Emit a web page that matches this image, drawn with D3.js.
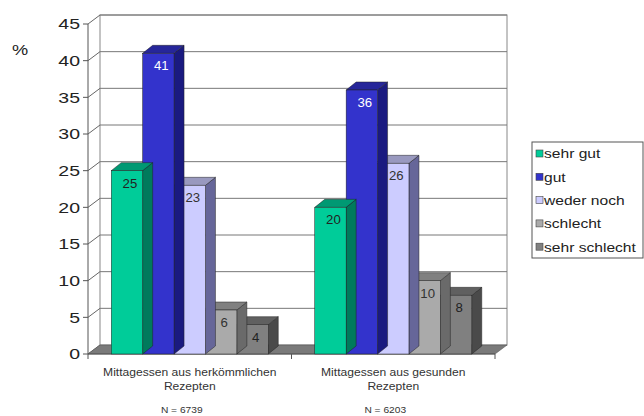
<!DOCTYPE html>
<html>
<head>
<meta charset="utf-8">
<script src="https://cdn.jsdelivr.net/npm/d3@7"></script>
<style>
  body { margin: 0; background: #fff; }
  svg { display: block; font-family: "Liberation Sans", Arial, sans-serif; }
</style>
</head>
<body>
<div id="chart"></div>
<script>
const width = 644;
const height = 416;

// data
const categories = ["Mittagessen aus herkömmlichen|Rezepten", "Mittagessen aus gesunden|Rezepten"];
const sampleSizes = ["N = 6739", "N = 6203"];
const seriesNames = ["sehr gut", "gut", "weder noch", "schlecht", "sehr schlecht"];
const values = [
    [25, 41, 23, 6, 4],
    [20, 36, 26, 10, 8]
];
const yTicks = [0, 5, 10, 15, 20, 25, 30, 35, 40, 45];

// colours: front, top, side
const frontColor = ["#00cc99", "#3333cc", "#ccccff", "#aaaaaa", "#808080"];
const topColor = ["#009973", "#26269a", "#9999bf", "#808080", "#606060"];
const sideColor = ["#007a5c", "#1a1a80", "#666699", "#6a6a6a", "#4a4a4a"];
const labelColor = ["#222", "#fff", "#333", "#333", "#222"];

const plotLeft = 88, plotRight = 495;
const wallDx = 12, wallDy = -9;   // depth of the back wall
const barDx = 10, barDy = -8;     // depth of a bar
const stretch = 1.3;              // the original text is drawn wide

const svg = d3.select("#chart").append("svg")
    .attr("width", width)
    .attr("height", height);

const y = d3.scaleLinear().domain([0, 45]).range([354, 24]);

const x0 = d3.scaleBand().domain(categories).range([plotLeft, plotRight]);
const barW = 31.4;
const x1 = d3.scaleBand().domain(seriesNames).range([0, barW * seriesNames.length]);

// back wall
svg.append("rect")
    .attr("x", plotLeft + wallDx).attr("y", y(45) + wallDy)
    .attr("width", plotRight - plotLeft).attr("height", y(0) - y(45))
    .attr("fill", "#fff").attr("stroke", "#888");

// gridlines on the wall
svg.append("g").selectAll("line")
    .data(yTicks.slice(1))
    .join("line")
    .attr("x1", plotLeft + wallDx).attr("x2", plotRight + wallDx)
    .attr("y1", d => y(d) + wallDy).attr("y2", d => y(d) + wallDy)
    .attr("stroke", "#777").attr("stroke-width", 1);

// left side wall lines (diagonal tick lines)
svg.append("g").selectAll("line")
    .data(yTicks)
    .join("line")
    .attr("x1", plotLeft).attr("x2", plotLeft + wallDx)
    .attr("y1", d => y(d)).attr("y2", d => y(d) + wallDy)
    .attr("stroke", "#666");

// floor
svg.append("path")
    .attr("d", `M${plotLeft},${y(0)} L${plotLeft + wallDx},${y(0) + wallDy} L${plotRight + wallDx},${y(0) + wallDy} L${plotRight},${y(0)} Z`)
    .attr("fill", "#7a7a7a").attr("stroke", "#555").attr("stroke-width", 0.6);

// front y axis
const axisG = svg.append("g");
axisG.append("line")
    .attr("x1", plotLeft).attr("x2", plotLeft)
    .attr("y1", y(0)).attr("y2", y(45))
    .attr("stroke", "#555");
axisG.selectAll(".tick")
    .data(yTicks)
    .join("line")
    .attr("x1", plotLeft - 5).attr("x2", plotLeft)
    .attr("y1", d => y(d)).attr("y2", d => y(d))
    .attr("stroke", "#555");
axisG.selectAll("text")
    .data(yTicks)
    .join("text")
    .attr("transform", d => `translate(${plotLeft - 8},${y(d)}) scale(${stretch},1)`)
    .attr("dy", "0.36em")
    .attr("text-anchor", "end")
    .attr("font-size", 15)
    .attr("fill", "#222")
    .text(d => d);

// front x axis with category separators
svg.append("line")
    .attr("x1", plotLeft).attr("x2", plotRight)
    .attr("y1", y(0)).attr("y2", y(0))
    .attr("stroke", "#555");
svg.append("g").selectAll("line")
    .data([plotLeft, x0(categories[1]), plotRight])
    .join("line")
    .attr("x1", d => d).attr("x2", d => d)
    .attr("y1", y(0)).attr("y2", y(0) + 5)
    .attr("stroke", "#555");

svg.append("text")
    .attr("transform", `translate(20,55) scale(${stretch},1)`)
    .attr("text-anchor", "middle")
    .attr("font-size", 14)
    .attr("fill", "#222")
    .text("%");

// bars
const groups = svg.append("g").selectAll("g")
    .data(categories)
    .join("g")
    .attr("transform", c => `translate(${x0(c) + (x0.bandwidth() - barW * seriesNames.length) / 2},0)`);

groups.each(function (c, ci) {
    const g = d3.select(this);
    // draw right to left so left bars overlap side faces correctly
    const items = seriesNames.map((s, i) => ({ s, i, v: values[ci][i] })).reverse();
    items.forEach(d => {
        const bx = x1(d.s), bw = x1.bandwidth();
        const by = y(d.v), b0 = y(0);
        g.append("path")
            .attr("d", `M${bx + bw},${by} L${bx + bw + barDx},${by + barDy} L${bx + bw + barDx},${b0 + barDy} L${bx + bw},${b0} Z`)
            .attr("fill", sideColor[d.i]).attr("stroke", "#222").attr("stroke-width", 0.5);
        g.append("path")
            .attr("d", `M${bx},${by} L${bx + barDx},${by + barDy} L${bx + bw + barDx},${by + barDy} L${bx + bw},${by} Z`)
            .attr("fill", topColor[d.i]).attr("stroke", "#222").attr("stroke-width", 0.5);
        g.append("rect")
            .attr("x", bx).attr("y", by)
            .attr("width", bw).attr("height", b0 - by)
            .attr("fill", frontColor[d.i]).attr("stroke", "#222").attr("stroke-width", 0.5);
        g.append("text")
            .attr("transform", `translate(${bx + bw / 2 + 3},${by + 17}) scale(1.1,1)`)
            .attr("text-anchor", "middle")
            .attr("font-size", 12)
            .attr("fill", labelColor[d.i])
            .text(d.v);
    });
});

// category labels
const catLabels = svg.append("g").selectAll("g")
    .data(categories)
    .join("g")
    .attr("transform", c => `translate(${x0(c) + x0.bandwidth() / 2},0)`);
catLabels.each(function (c, ci) {
    const g = d3.select(this);
    c.split("|").forEach((line, li) => {
        g.append("text")
            .attr("transform", `translate(0,${376 + li * 14}) scale(1.1,1)`)
            .attr("text-anchor", "middle")
            .attr("font-size", 11)
            .attr("fill", "#333")
            .text(line);
    });
    g.append("text")
        .attr("transform", `translate(-8,413) scale(1.2,1)`)
        .attr("text-anchor", "middle")
        .attr("font-size", 8.5)
        .attr("fill", "#333")
        .text(sampleSizes[ci]);
});

// legend
const legend = svg.append("g").attr("transform", "translate(532,142)");
legend.append("rect")
    .attr("width", 111).attr("height", 116)
    .attr("fill", "#fff").attr("stroke", "#555");
const legendItems = legend.selectAll("g")
    .data(seriesNames)
    .join("g")
    .attr("transform", (d, i) => `translate(4,${12 + i * 23.3})`);
legendItems.append("rect")
    .attr("x", 0).attr("y", -4)
    .attr("width", 7).attr("height", 7)
    .attr("fill", (d, i) => frontColor[i]).attr("stroke", "#444").attr("stroke-width", 0.6);
legendItems.append("text")
    .attr("transform", `translate(8,0) scale(${stretch},1)`)
    .attr("dy", "0.36em")
    .attr("font-size", 12)
    .attr("fill", "#222")
    .text(d => d);
</script>
</body>
</html>
